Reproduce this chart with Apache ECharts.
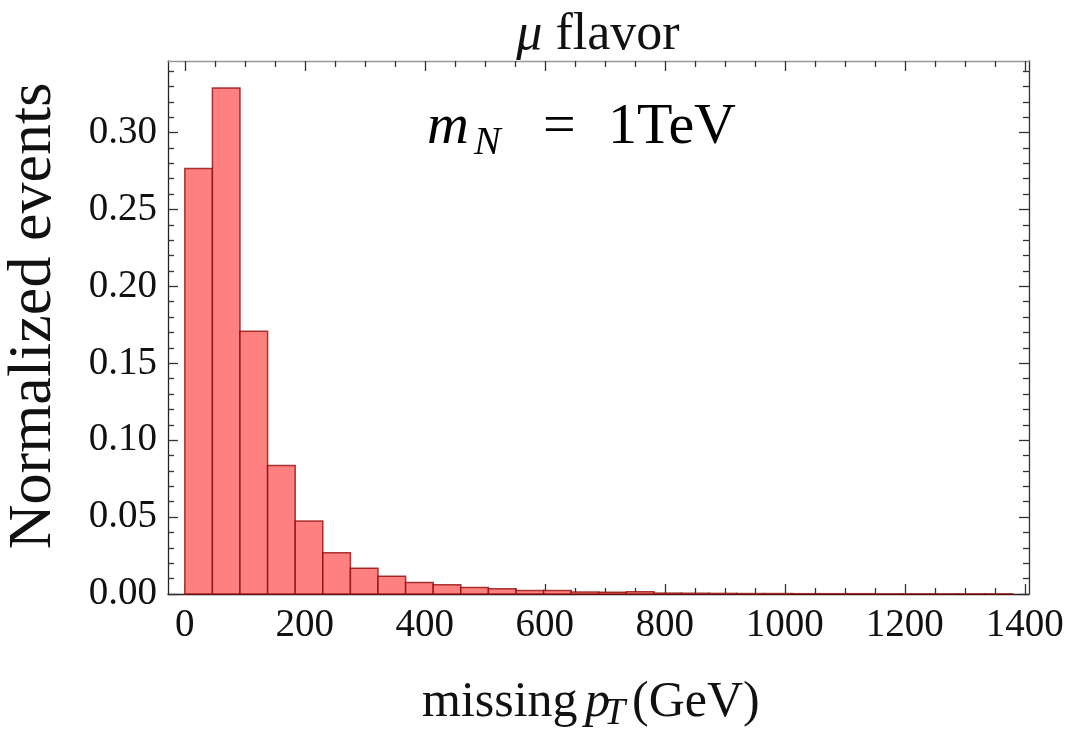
<!DOCTYPE html>
<html>
<head>
<meta charset="utf-8">
<script src="https://cdn.jsdelivr.net/npm/echarts@6/dist/echarts.min.js"></script>
<style>
html,body{margin:0;padding:0;background:#fff;}
#chart{width:1073px;height:730px;}
</style>
</head>
<body>
<div id="chart"></div>
<script>
// ---- data ----
var binStarts = [0,46,92,138,184,230,276,322,368,414,460,506,552,598,644,690,736,782,828,874,920,966,1012,1058,1104,1150,1196,1242,1288,1334];
var binWidth = 46;
var eventFractions = [0.2766,0.3290,0.1708,0.0836,0.0474,0.0268,0.0168,0.0116,0.0075,0.0060,0.0043,0.0034,0.0022,0.0022,0.0013,0.0012,0.0015,0.0006,0.0005,0.0004,0.0003,0.0003,0.0002,0.0002,0.0002,0.0001,0.0001,0.0001,0.0001,0.0001];
var xMajorTicks = [0,200,400,600,800,1000,1200,1400];
var xMinorTicks = [50,100,150,250,300,350,450,500,550,650,700,750,850,900,950,1050,1100,1150,1250,1300,1350];
var yMajorTicks = [0,0.05,0.10,0.15,0.20,0.25,0.30];
var yMinorTicks = [0.01,0.02,0.03,0.04,0.06,0.07,0.08,0.09,0.11,0.12,0.13,0.14,0.16,0.17,0.18,0.19,0.21,0.22,0.23,0.24,0.26,0.27,0.28,0.29,0.31,0.32,0.33,0.34];
var titleSymbol = 'μ';
var titleWord = 'flavor';
var yTitle = 'Normalized events';

var FONT = '"Liberation Serif", "DejaVu Serif", serif';
var X_MIN = -28, X_MAX = 1407, Y_MIN = 0, Y_MAX = 0.3465;

var barData = binStarts.map(function (s, i) { return [s, s + binWidth, eventFractions[i]]; });

function xAxisDef(pos, major, showLabel, lineColor) {
  return {
    type: 'value', position: pos, min: X_MIN, max: X_MAX,
    axisLine: { show: major, onZero: false, lineStyle: { color: lineColor, width: 1.3 } },
    axisTick: { show: true, inside: true, length: major ? 10 : 6,
      customValues: major ? xMajorTicks : xMinorTicks,
      lineStyle: { color: '#333', width: 1.3 } },
    axisLabel: { show: showLabel, customValues: xMajorTicks, margin: 12,
      fontFamily: FONT, fontSize: 39, color: '#111',
      formatter: function (v) { return String(v); } },
    splitLine: { show: false }
  };
}
function yAxisDef(pos, major, showLabel, lineColor) {
  return {
    type: 'value', position: pos, min: Y_MIN, max: Y_MAX,
    axisLine: { show: major, onZero: false, lineStyle: { color: lineColor, width: 1.3 } },
    axisTick: { show: true, inside: true, length: major ? 10 : 6,
      customValues: major ? yMajorTicks : yMinorTicks,
      lineStyle: { color: '#333', width: 1.3 } },
    axisLabel: { show: showLabel, customValues: yMajorTicks, margin: 11,
      fontFamily: FONT, fontSize: 39, color: '#111',
      formatter: function (v) { return v.toFixed(2); } },
    splitLine: { show: false }
  };
}

var chart = echarts.init(document.getElementById('chart'), null, { renderer: 'canvas' });
chart.setOption({
  animation: false,
  backgroundColor: '#fff',
  grid: { left: 168, right: 44, top: 61, bottom: 136, containLabel: false },
  xAxis: [
    xAxisDef('bottom', true, true, '#222'),
    xAxisDef('bottom', false, false, '#222'),
    xAxisDef('top', true, false, '#999'),
    xAxisDef('top', false, false, '#999')
  ],
  yAxis: [
    yAxisDef('left', true, true, '#222'),
    yAxisDef('left', false, false, '#222'),
    yAxisDef('right', true, false, '#333'),
    yAxisDef('right', false, false, '#333')
  ],
  series: [{
    type: 'custom',
    xAxisIndex: 0, yAxisIndex: 0,
    data: barData,
    encode: { x: [0, 1], y: 2 },
    renderItem: function (params, api) {
      var p0 = api.coord([api.value(0), api.value(2)]);
      var p1 = api.coord([api.value(1), 0]);
      return {
        type: 'rect',
        shape: { x: p0[0], y: p0[1], width: p1[0] - p0[0], height: p1[1] - p0[1] },
        style: { fill: 'rgb(255,128,128)', stroke: 'rgba(140,0,0,0.75)', lineWidth: 1.5 }
      };
    }
  }],
  graphic: [
    { type: 'text', x: 598, y: 35, style: {
        text: '{i|' + titleSymbol + '} ' + titleWord,
        font: '52px ' + FONT, fill: '#111', align: 'center', verticalAlign: 'middle',
        rich: { i: { fontStyle: 'italic', fontSize: 52, fontFamily: FONT, fill: '#111' } } } },
    { type: 'text', x: 34, y: 316, rotation: Math.PI / 2, style: { text: yTitle, font: '62px ' + FONT, fill: '#111', align: 'center', verticalAlign: 'middle' } },
    // x axis title pieces
    { type: 'text', x: 422, y: 703, style: { text: 'missing', font: '50px ' + FONT, fill: '#111', align: 'left', verticalAlign: 'middle' } },
    { type: 'text', x: 585, y: 703, style: { text: 'p', font: 'italic 50px ' + FONT, fill: '#111', align: 'left', verticalAlign: 'middle' } },
    { type: 'text', x: 604, y: 714, style: { text: 'T', font: 'italic 38px ' + FONT, fill: '#111', align: 'left', verticalAlign: 'middle' } },
    { type: 'text', x: 632, y: 703, style: { text: '(GeV)', font: '50px ' + FONT, fill: '#111', align: 'left', verticalAlign: 'middle' } },
    // annotation
    { type: 'text', x: 427, y: 128, style: { text: 'm', font: 'italic 58px ' + FONT, fill: '#000', align: 'left', verticalAlign: 'middle' } },
    { type: 'text', x: 474, y: 143, style: { text: 'N', font: 'italic 40px ' + FONT, fill: '#000', align: 'left', verticalAlign: 'middle' } },
    { type: 'text', x: 543, y: 128, style: { text: '=', font: '58px ' + FONT, fill: '#000', align: 'left', verticalAlign: 'middle' } },
    { type: 'text', x: 608, y: 128, style: { text: '1TeV', font: '58px ' + FONT, fill: '#000', align: 'left', verticalAlign: 'middle' } }
  ]
});
</script>
</body>
</html>
